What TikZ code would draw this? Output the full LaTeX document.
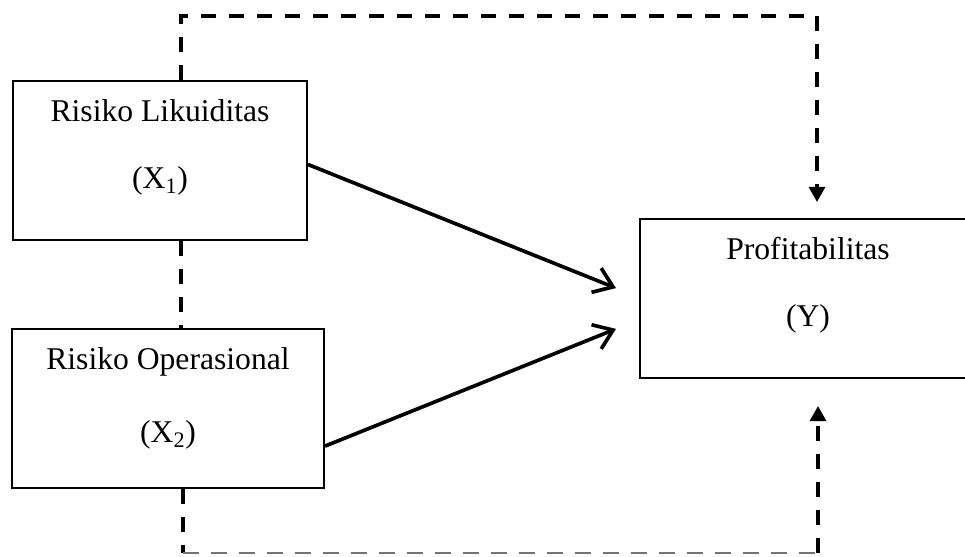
\documentclass[tikz,border=0pt]{standalone}
\usepackage{fontspec}
\setmainfont{Liberation Serif}
\usetikzlibrary{arrows.meta}
\newcommand{\vartext}[2]{\parbox[c][3.975cm][t]{7cm}{\centering\rule{0pt}{1.025cm}#1\\\rule{0pt}{1.62cm}#2}}

\begin{document}
\begin{tikzpicture}[x=0.025cm,y=-0.025cm,
  var/.style={draw,line width=1.4pt,inner sep=0pt,minimum height=3.975cm,font=\fontsize{22.5}{27}\selectfont},
  dashlink/.style={line width=2.2pt,dash pattern=on 0.375cm off 0.325cm},
  thinlink/.style={line width=1pt,black!55,dash pattern=on 0.4cm off 0.3cm},
  solidlink/.style={line width=2.6pt,-{Straight Barb[length=0.45cm,width=0.65cm]}},
  tiplink/.style={-{Triangle[length=0.375cm,width=0.4cm]}}]
\useasboundingbox (0,0) rectangle (965,557);
\clip (0,0) rectangle (965,557);
\node[var,minimum width=7.35cm] (x1) at (160,160.5) {\vartext{Risiko Likuiditas}{(X\textsubscript{1})}};
\node[var,minimum width=7.8cm] (x2) at (168,408.5) {\vartext{Risiko Operasional}{(X\textsubscript{2})}};
\node[var,minimum width=8.4cm] (y) at (808,298.5) {\vartext{Profitabilitas}{(Y)}};
\coordinate (tl) at (181,16); \coordinate (tr) at (817,16);
\coordinate (bl) at (183,553); \coordinate (br) at (818,553);
\draw[dashlink,tiplink,shorten >=0.4cm] (x1.north -| tl) -- (tl) -- (tr) -- (y.north -| tr);
\draw[dashlink] (x1.south -| tl) -- (x2.north -| tl);
\draw[dashlink] (x2.south -| bl) -- (bl);
\draw[thinlink] (bl) -- (br);
\draw[dashlink,tiplink,shorten >=0.675cm] (br) -- (y.south -| br);
\draw[solidlink] ([yshift=-0.1cm]x1.east) -- ([xshift=-0.575cm,yshift=0.26cm]y.west);
\draw[solidlink] ([yshift=-0.94cm]x2.east) -- ([xshift=-0.575cm,yshift=-0.76cm]y.west);
\end{tikzpicture}
\end{document}
